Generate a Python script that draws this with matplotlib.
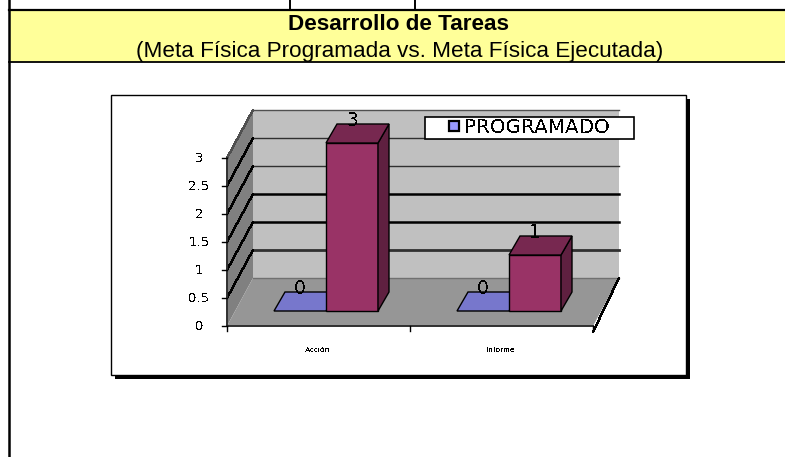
import matplotlib
matplotlib.use('Agg')
import matplotlib.pyplot as plt
from matplotlib.patches import Polygon, Rectangle

# Chart data
categories = ['Acción', 'Informe']
programado = [0, 0]
ejecutado = [3, 1]
y_ticks = [0, 0.5, 1, 1.5, 2, 2.5, 3]
y_tick_labels = ['0', '0.5', '1', '1.5', '2', '2.5', '3']
series_name = 'PROGRAMADO'
title = 'Desarrollo de Tareas'
subtitle = '(Meta Física Programada vs. Meta Física Ejecutada)'

plt.rcParams['font.family'] = ['Liberation Sans', 'DejaVu Sans']

# Whole figure is one axes working in screen pixels
fig = plt.figure(figsize=(7.85, 4.57), dpi=100)
ax = fig.add_axes([0, 0, 1, 1])
ax.set_xlim(0, 785)
ax.set_ylim(457, 0)
ax.axis('off')

# Projection of the fake 3D chart
px_per_unit = 56
axis_y0 = 326
bar_y0 = 311
bar_w = 52
bar_dx, bar_dy = 11, -19
wall_dx, wall_dy = 26, -48
axis_x0 = 227
cat_w = 183
group_x = [326, 509]


def poly(points, face, edge='black', lw=1.0, z=2):
    ax.add_patch(Polygon(points, closed=True, facecolor=face, edgecolor=edge, linewidth=lw, zorder=z))


# Page table
ax.add_patch(Rectangle((9, 10), 776, 52, facecolor='#ffff99', edgecolor='none', zorder=1))
ax.plot([9, 785], [10, 10], color='black', lw=1.6, zorder=2)
ax.plot([9, 785], [62, 62], color='black', lw=1.3, zorder=2)
ax.plot([9, 9], [0, 457], color='black', lw=1.8, zorder=2)
for x in [290, 415]:
    ax.plot([x, x], [0, 10], color='black', lw=1.4, zorder=2)
ax.text(399, 25, title, ha='center', va='center', fontsize=16.2, fontweight='bold', color='black', zorder=3)
ax.text(400, 51, subtitle, ha='center', va='center', fontsize=16.2, color='black', zorder=3)

# Chart frame and shadow
ax.add_patch(Rectangle((115, 99), 575, 280, facecolor='black', edgecolor='none', zorder=1))
ax.add_patch(Rectangle((111, 95), 575, 280, facecolor='white', edgecolor='black', linewidth=1.0, zorder=2))

plt.rcParams['text.antialiased'] = False

# Walls and floor
axis_top = axis_y0 - px_per_unit * max(y_ticks)
right_x = axis_x0 + cat_w * len(categories)
poly([(axis_x0 + wall_dx, axis_top + wall_dy), (right_x + wall_dx, axis_top + wall_dy),
      (right_x + wall_dx, axis_y0 + wall_dy), (axis_x0 + wall_dx, axis_y0 + wall_dy)], '#c0c0c0', edge='none', z=3)
poly([(axis_x0, axis_y0), (axis_x0, axis_top), (axis_x0 + wall_dx, axis_top + wall_dy),
      (axis_x0 + wall_dx, axis_y0 + wall_dy)], '#808080', edge='none', z=3)
poly([(axis_x0, axis_y0), (axis_x0 + wall_dx, axis_y0 + wall_dy), (right_x + wall_dx, axis_y0 + wall_dy),
      (right_x, axis_y0)], '#969696', edge='none', z=3)

# Gridlines: thin and jagged on the left wall, heavier on the back wall
grid_widths = [1.0, 2.0, 1.8, 1.8, 1.0, 1.0, 1.0]
grid_colors = ['#707070', '#303030', 'black', 'black', '#303030', '#303030', '#505050']
for tick, lw, col in zip(y_ticks, grid_widths, grid_colors):
    y = axis_y0 - px_per_unit * tick
    ax.plot([axis_x0 + wall_dx, right_x + wall_dx], [y + wall_dy, y + wall_dy], color=col, lw=lw, zorder=4)
    if tick > 0:
        ax.plot([axis_x0, axis_x0 + wall_dx], [y, y + wall_dy], color='black' if tick < 3 else '#505050',
                lw=1.0, zorder=4, antialiased=False)

# Axis lines and ticks
ax.plot([axis_x0, axis_x0], [axis_y0, axis_top], color='#303030', lw=1.4, zorder=5)
ax.plot([axis_x0, right_x], [axis_y0, axis_y0], color='#303030', lw=1.4, zorder=5)
ax.plot([right_x, right_x + wall_dx], [axis_y0 + 6, axis_y0 + wall_dy], color='black', lw=1.0, zorder=5,
        antialiased=False)
for tick, label in zip(y_ticks, y_tick_labels):
    y = axis_y0 - px_per_unit * tick
    ax.plot([axis_x0 - 5, axis_x0], [y, y], color='black', lw=1.0, zorder=5)
    ax.text(199, y, label, ha='center', va='center', fontsize=9.5, color='black', zorder=5,
            family='DejaVu Sans')
for i in range(len(categories) + 1):
    x = axis_x0 + cat_w * i
    ax.plot([x, x], [axis_y0, axis_y0 + 5], color='black', lw=1.0, zorder=5)

# Bars
for i, cat in enumerate(categories):
    x_mid = group_x[i]
    for x, value, front, top, side, z in [
        (x_mid - bar_w, programado[i], '#9999ff', '#7777cc', '#5c5c99', 6),
        (x_mid, ejecutado[i], '#993366', '#772850', '#5f2040', 7),
    ]:
        y_top = bar_y0 - px_per_unit * value
        if value > 0:
            poly([(x, bar_y0), (x, y_top), (x + bar_w, y_top), (x + bar_w, bar_y0)], front, z=z)
            poly([(x + bar_w, bar_y0), (x + bar_w + bar_dx, bar_y0 + bar_dy),
                  (x + bar_w + bar_dx, y_top + bar_dy), (x + bar_w, y_top)], side, z=z)
        poly([(x, y_top), (x + bar_dx, y_top + bar_dy), (x + bar_w + bar_dx, y_top + bar_dy),
              (x + bar_w, y_top)], top, z=z)
        ax.text(x + bar_w / 2, y_top - 22, str(value), ha='center', va='center', fontsize=13.5,
                color='black', zorder=8, family='DejaVu Sans')
    ax.text(axis_x0 + cat_w * (i + 0.5) - 1, 351, cat, ha='center', va='center', fontsize=6,
            color='black', zorder=5)

# Legend
ax.add_patch(Rectangle((425, 117), 209, 22, facecolor='white', edgecolor='black', linewidth=1.2, zorder=9))
ax.add_patch(Rectangle((449, 121), 10, 10, facecolor='#9999ff', edgecolor='black', linewidth=1.6, zorder=10))
ax.text(464, 127.5, series_name, ha='left', va='center', fontsize=14.3, color='black', zorder=10,
        family='DejaVu Sans')

fig.savefig('out.png', dpi=100)
